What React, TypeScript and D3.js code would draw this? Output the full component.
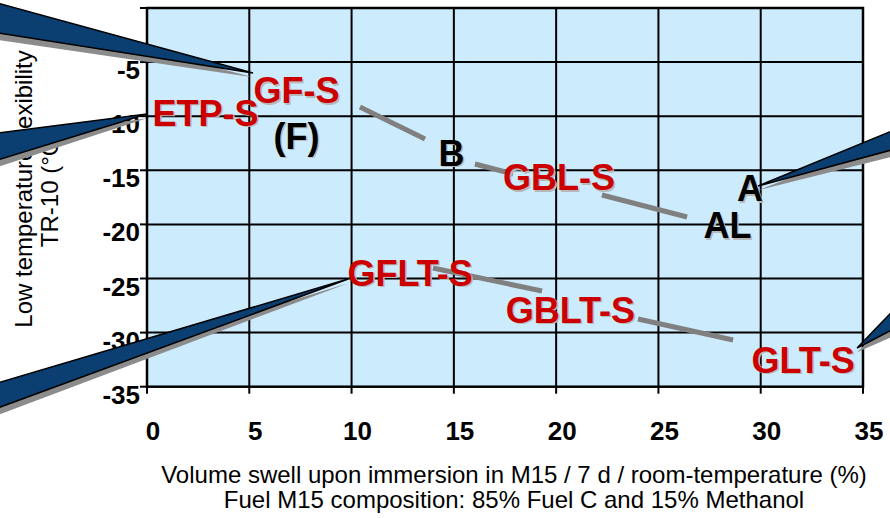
import React from "react";
import * as d3 from "d3";

// ---- data ----
const xTicks = [0, 5, 10, 15, 20, 25, 30, 35];
const yTicks = [-35, -30, -25, -20, -15, -10, -5];
const xDomain = [0, 35];
const yDomain = [-35, 0];

// Viton grade labels (red): volume swell (%) / TR-10 (°C)
const gradeNames = ["ETP-S", "GF-S", "GBL-S", "GFLT-S", "GBLT-S", "GLT-S"];
const gradeSwell = [2.86, 7.31, 20.14, 12.86, 20.7, 32.07];
const gradeTR10 = [-9.7, -7.58, -15.62, -24.49, -27.87, -32.53];

// type labels (black)
const typeNames = ["(F)", "B", "A", "AL"];
const typeSwell = [7.31, 14.88, 29.48, 28.38];
const typeTR10 = [-11.8, -13.4, -16.68, -20.06];

// grey trend segments [x1, y1, x2, y2] in data units
const trendX1 = [10.41, 16.03, 22.24, 13.98, 24.0];
const trendY1 = [-9.15, -14.42, -17.28, -24.03, -28.74];
const trendX2 = [13.59, 17.89, 26.4, 19.31, 28.65];
const trendY2 = [-12.11, -15.34, -19.32, -26.16, -30.68];

// callout wedges: tip and two base points (data units, bases lie outside the plot)
const calloutTipX = [5.18, 0.0, 9.83, 29.87, 34.71];
const calloutTipY = [-6.01, -9.8, -25.05, -16.45, -31.42];
const calloutBaseX = [-7.3, -7.3, -7.3, 36.4, 36.4];
const calloutBaseY1 = [0.46, -11.55, -34.66, -11.37, -28.1];
const calloutBaseY2 = [-2.31, -14.05, -36.97, -13.12, -29.76];

const W = 890;
const H = 518;
const left = 147;
const right = 863;
const top = 8;
const bottom = 386.7;

export default function App() {
  const x = d3.scaleLinear().domain(xDomain).range([left, right]);
  const y = d3.scaleLinear().domain(yDomain).range([bottom, top]);
  const gridX = d3.range(5, 35, 5);
  const gridY = d3.range(-30, 0, 5);

  const wedge = (i: number, dy: number) => {
    const pts: [number, number][] = [
      [x(calloutTipX[i]), y(calloutTipY[i]) + dy * 0.6],
      [x(calloutBaseX[i]), y(calloutBaseY1[i]) + dy],
      [x(calloutBaseX[i]), y(calloutBaseY2[i]) + dy],
    ];
    return d3.line()(pts)! + "Z";
  };

  const labelFont = "Arial, 'Liberation Sans', sans-serif";

  return (
    <svg
      width={W}
      height={H}
      style={{ position: "absolute", left: 0, top: 0, display: "block" }}
      fontFamily={labelFont}
    >
      <rect x={0} y={0} width={W} height={H} fill="#ffffff" />
      <rect x={left} y={top} width={right - left} height={bottom - top} fill="#ccebfd" />
      {gridX.map((v) => (
        <line key={"gx" + v} x1={x(v)} x2={x(v)} y1={top} y2={bottom} stroke="#000" strokeWidth={2} />
      ))}
      {gridY.map((v) => (
        <line key={"gy" + v} x1={left} x2={right} y1={y(v)} y2={y(v)} stroke="#000" strokeWidth={2} />
      ))}
      <rect x={left} y={top} width={right - left} height={bottom - top} fill="none" stroke="#000" strokeWidth={2.5} />
      {/* ticks */}
      {[...yTicks, 0].map((v) => (
        <line key={"yt" + v} x1={left - 7} x2={left} y1={y(v)} y2={y(v)} stroke="#000" strokeWidth={2} />
      ))}
      {xTicks.map((v) => (
        <line key={"xt" + v} x1={x(v)} x2={x(v)} y1={bottom} y2={bottom + 7} stroke="#000" strokeWidth={2} />
      ))}
      {yTicks.map((v) => (
        <text key={"yl" + v} x={left - 7} y={y(v) + 17} textAnchor="end" fontSize={26} fontWeight="bold" fill="#000">
          {v}
        </text>
      ))}
      {xTicks.map((v) => (
        <text key={"xl" + v} x={x(v) + 6} y={440} textAnchor="middle" fontSize={26} fontWeight="bold" fill="#000">
          {v}
        </text>
      ))}
      {/* axis titles */}
      <text x={514} y={483} textAnchor="middle" fontSize={24} fill="#000">
        Volume swell upon immersion in M15 / 7 d / room-temperature (%)
      </text>
      <text x={514} y={508} textAnchor="middle" fontSize={24} fill="#000">
        Fuel M15 composition: 85% Fuel C and 15% Methanol
      </text>
      <text transform="translate(32,189) rotate(-90)" textAnchor="middle" fontSize={24} fill="#000">
        Low temperature flexibility
      </text>
      <text transform="translate(58,189) rotate(-90)" textAnchor="middle" fontSize={24} fill="#000">
        TR-10 (°C)
      </text>
      {/* grey trend segments */}
      {trendX1.map((_, i) => (
        <line
          key={"tr" + i}
          x1={x(trendX1[i])}
          y1={y(trendY1[i])}
          x2={x(trendX2[i])}
          y2={y(trendY2[i])}
          stroke="#808080"
          strokeWidth={5}
        />
      ))}
      {/* type labels */}
      {typeNames.map((t, i) => (
        <g key={"ty" + i}>
          <text x={x(typeSwell[i]) + 1.5} y={y(typeTR10[i]) + 13 + 1.5} textAnchor="middle" fontSize={36} fontWeight="bold" fill="#b8b8b8">
            {t}
          </text>
          <text x={x(typeSwell[i])} y={y(typeTR10[i]) + 13} textAnchor="middle" fontSize={36} fontWeight="bold" fill="#000">
            {t}
          </text>
        </g>
      ))}
      {/* grade labels */}
      {gradeNames.map((t, i) => (
        <g key={"gr" + i}>
          <text x={x(gradeSwell[i]) + 1.5} y={y(gradeTR10[i]) + 13 + 1.5} textAnchor="middle" fontSize={36} fontWeight="bold" fill="#b8b8b8">
            {t}
          </text>
          <text x={x(gradeSwell[i])} y={y(gradeTR10[i]) + 13} textAnchor="middle" fontSize={36} fontWeight="bold" fill="#cc0000">
            {t}
          </text>
        </g>
      ))}
      {/* callout wedges */}
      {calloutTipX.map((_, i) => (
        <g key={"co" + i}>
          <path d={wedge(i, 7)} fill="#8c8c8c" />
          <path d={wedge(i, 0)} fill="#0b3f72" stroke="#000" strokeWidth={1.5} strokeLinejoin="miter" />
        </g>
      ))}
    </svg>
  );
}
